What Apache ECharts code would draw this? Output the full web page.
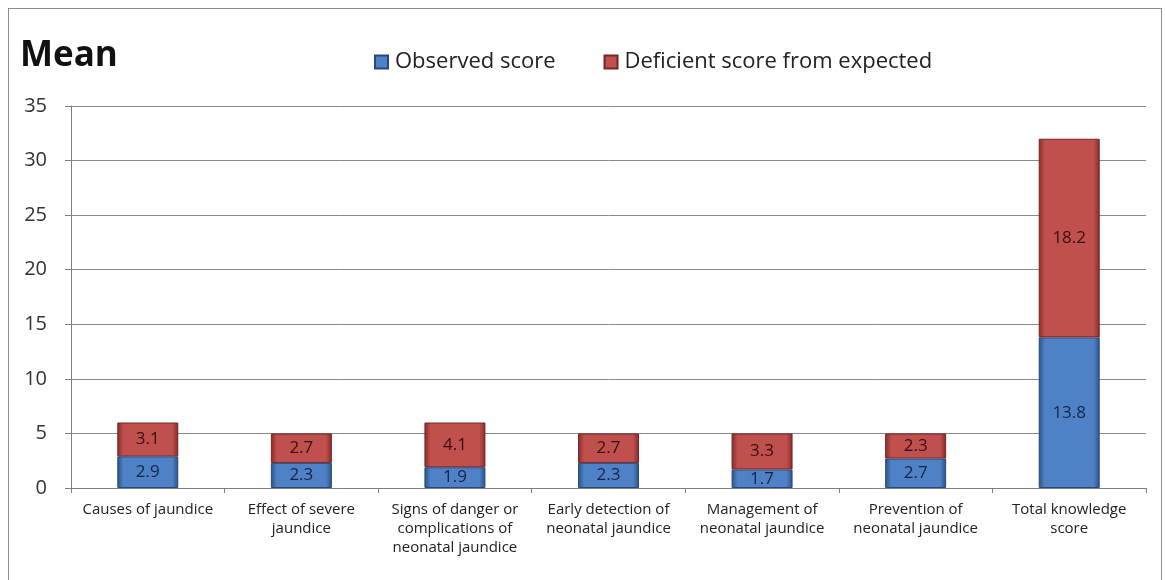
<!DOCTYPE html>
<html>
<head>
<meta charset="utf-8">
<script src="https://cdn.jsdelivr.net/npm/echarts@6/dist/echarts.min.js"></script>
<style>
  html, body { margin: 0; padding: 0; background: #fff; }
  #frame { position: absolute; left: 8px; top: 8px; width: 1154px; height: 600px; border: 1px solid #8c8c8c; box-sizing: border-box; }
  #chart { position: absolute; left: 0; top: 0; width: 1165px; height: 580px; }
</style>
</head>
<body>
<div id="frame"></div>
<div id="chart"></div>
<script>
// Knowledge domains (category axis)
const categories = [
  'Causes of jaundice',
  'Effect of severe\njaundice',
  'Signs of danger or\ncomplications of\nneonatal jaundice',
  'Early detection of\nneonatal jaundice',
  'Management of\nneonatal jaundice',
  'Prevention of\nneonatal jaundice',
  'Total knowledge\nscore'
];
// Mean scores
const observed = [2.9, 2.3, 1.9, 2.3, 1.7, 2.7, 13.8];
const deficient = [3.1, 2.7, 4.1, 2.7, 3.3, 2.3, 18.2];
const yTicks = { min: 0, max: 35, interval: 5 };

// Horizontal shading for a bevelled bar look
function barFill(edge, mid) {
  return {
    type: 'linear', x: 0, y: 0, x2: 1, y2: 0,
    colorStops: [
      { offset: 0, color: edge },
      { offset: 0.1, color: mid },
      { offset: 0.9, color: mid },
      { offset: 1, color: edge }
    ]
  };
}

const font = 'Open Sans';
const chart = echarts.init(document.getElementById('chart'));
chart.setOption({
  animation: false,
  title: {
    text: 'Mean', left: 15, top: 34,
    textStyle: { fontFamily: font, fontSize: 35, fontWeight: 'bold', color: '#111' }
  },
  legend: {
    top: 46, left: 369, itemWidth: 13, itemHeight: 13, itemGap: 48,
    textStyle: { fontFamily: font, fontSize: 22, color: '#222', padding: [0, 0, 0, 2] },
    data: [
      { name: 'Observed score', icon: 'rect' },
      { name: 'Deficient score from expected', icon: 'rect' }
    ]
  },
  grid: { left: 71, right: 19, top: 106, bottom: 92 },
  xAxis: {
    type: 'category', data: categories,
    axisLine: { lineStyle: { color: '#7f7f7f' } },
    axisTick: { show: true, length: 5, lineStyle: { color: '#7f7f7f' } },
    axisLabel: { fontFamily: font, fontSize: 15, color: '#222', lineHeight: 19, margin: 12, interval: 0 }
  },
  yAxis: {
    type: 'value', min: yTicks.min, max: yTicks.max, interval: yTicks.interval,
    axisLine: { show: true, lineStyle: { color: '#7f7f7f' } },
    axisTick: { show: true, length: 6, lineStyle: { color: '#7f7f7f' } },
    axisLabel: { fontFamily: font, fontSize: 20, color: '#333', margin: 24 },
    splitLine: { lineStyle: { color: '#8a8a8a', width: 1 } }
  },
  series: [
    {
      name: 'Observed score', type: 'bar', stack: 'total', data: observed, barWidth: 61,
      itemStyle: { color: barFill('#2a5285', '#4f81c6'), borderColor: '#27497a', borderWidth: 1 },
      label: { show: true, position: 'inside', fontFamily: font, fontSize: 17, color: '#13254a' }
    },
    {
      name: 'Deficient score from expected', type: 'bar', stack: 'total', data: deficient, barWidth: 61,
      itemStyle: { color: barFill('#862a28', '#c0504d'), borderColor: '#732624', borderWidth: 1 },
      label: { show: true, position: 'inside', fontFamily: font, fontSize: 17, color: '#3a0c0c' }
    }
  ],
  color: ['#4f81bd', '#c0504d']
});
</script>
</body>
</html>
